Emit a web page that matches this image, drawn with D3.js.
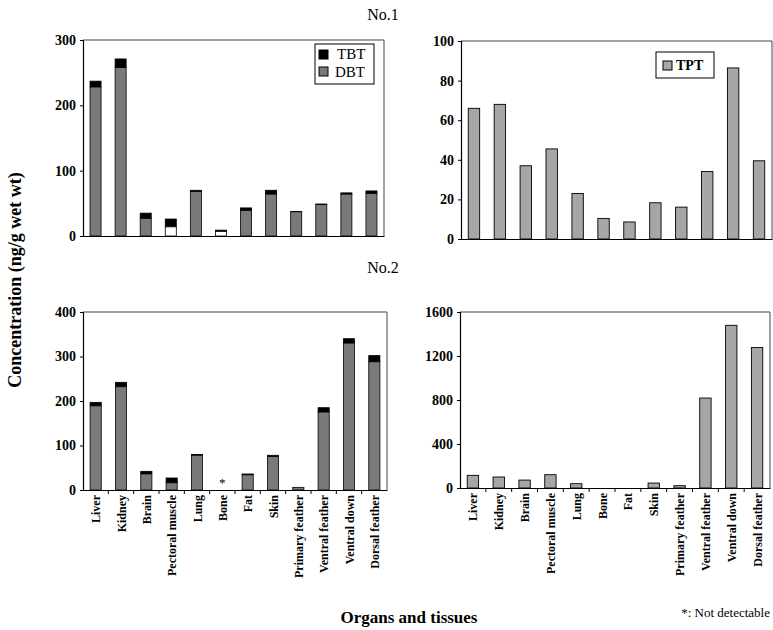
<!DOCTYPE html>
<html><head><meta charset="utf-8">
<script src="https://cdn.jsdelivr.net/npm/d3@7"></script>
<style>body{margin:0;background:#fff}svg{display:block}text{font-family:"Liberation Serif","Times New Roman",serif}</style>
</head><body><svg id="c" width="773" height="630"></svg>
<script>
const categories = ["Liver","Kidney","Brain","Pectoral muscle","Lung","Bone","Fat","Skin","Primary feather","Ventral feather","Ventral down","Dorsal feather"];
// No.1
const dbt1 = [228,258,27,14,68,7,39,64,37,48,64,65];
const tbt1 = [9,13,8,12,2,2,4,6,0.5,1,2,4];
const tpt1 = [66,68,37,45.5,23,10.4,8.6,18.3,16.1,34.1,86.4,39.5];
// No.2
const dbt2 = [189,232,36,16,78,0,34,75,6,175,330,288];
const tbt2 = [8,10,6,11,2,0,2,3,0,10,10,14];
const tpt2 = [115,100,72,121,39,0,0,45,21,818,1479,1277];
const notDetected2 = ["Bone"];
const yTicks1L = [0,100,200,300], yTicks1R = [0,20,40,60,80,100];
const yTicks2L = [0,100,200,300,400], yTicks2R = [0,400,800,1200,1600];

const svg = d3.select("#c");
const whiteDBT = new Set(["Pectoral muscle","Bone"]);

function panel(o){
  const x = d3.scaleBand().domain(categories).range([o.x0,o.x1]).paddingInner(0.56).paddingOuter(0.28);
  const y = d3.scaleLinear().domain([0,o.max]).range([o.y1,o.y0]);
  const g = svg.append("g");
  g.append("path").attr("d",`M${o.x0},${o.y0}H${o.x1}V${o.y1}`).attr("fill","none").attr("stroke","#444").attr("stroke-width",1);
  if(o.stack){
    const rows = categories.map((c,i)=>({c,dbt:o.dbt[i],tbt:o.tbt[i]}));
    rows.forEach(r=>{
      if(r.dbt+r.tbt<=0) return;
      g.append("rect").attr("x",x(r.c)).attr("width",x.bandwidth())
        .attr("y",y(r.dbt+r.tbt)).attr("height",y(r.dbt)-y(r.dbt+r.tbt))
        .attr("fill","#000").attr("stroke","#000").attr("stroke-width",0.8);
      g.append("rect").attr("x",x(r.c)).attr("width",x.bandwidth())
        .attr("y",y(r.dbt)).attr("height",y(0)-y(r.dbt))
        .attr("fill",(o.whiteSet&&o.whiteSet.has(r.c))?"#fff":"#7a7a7a").attr("stroke","#000").attr("stroke-width",0.8);
    });
  } else {
    categories.forEach((c,i)=>{
      if(o.vals[i]<=0) return;
      g.append("rect").attr("x",x(c)).attr("width",x.bandwidth())
        .attr("y",y(o.vals[i])).attr("height",y(0)-y(o.vals[i]))
        .attr("fill","#a6a6a6").attr("stroke","#000").attr("stroke-width",0.9);
    });
  }
  const ya = g.append("g").attr("transform",`translate(${o.x0},0)`)
    .call(d3.axisLeft(y).tickValues(o.ticks).tickSize(3).tickPadding(4).tickFormat(d3.format("d")));
  ya.select(".domain").attr("stroke","#000").attr("stroke-width",1.2);
  ya.selectAll("text").attr("font-size",14).attr("font-weight","bold").attr("fill","#000")
    .attr("font-family","'Liberation Serif',serif");
  const xa = g.append("g").attr("transform",`translate(0,${o.y1})`)
    .call(d3.axisBottom(x).tickSize(0).tickFormat(""));
  xa.select(".domain").attr("stroke","#000").attr("stroke-width",1.2);
  if(o.labels){
    const step = x.step();
    const edges = d3.range(1,categories.length).map(i=>x(categories[i]) - x.paddingInner()*step/2);
    g.selectAll(".et").data(edges).join("line").attr("x1",d=>d).attr("x2",d=>d)
      .attr("y1",o.y1).attr("y2",o.y1+4).attr("stroke","#000").attr("stroke-width",1);
    g.selectAll(".cl").data(categories).join("text")
      .attr("transform",c=>`translate(${x(c)+x.bandwidth()/2+4.5},${o.y1+5}) rotate(-90)`)
      .attr("text-anchor","end").attr("font-size",12).attr("font-weight","bold").attr("fill","#000").text(c=>c);
  }
  return {x,y,g};
}

panel({x0:83,x1:384,y0:40,y1:236,max:300,ticks:yTicks1L,stack:true,dbt:dbt1,tbt:tbt1,whiteSet:whiteDBT});
panel({x0:461,x1:772,y0:41,y1:239,max:100,ticks:yTicks1R,stack:false,vals:tpt1});
const bl = panel({x0:83,x1:387,y0:312,y1:490,max:400,ticks:yTicks2L,stack:true,dbt:dbt2,tbt:tbt2,labels:true});
panel({x0:460,x1:770,y0:312,y1:488,max:1600,ticks:yTicks2R,stack:false,vals:tpt2,labels:true});

notDetected2.forEach(c=>{
  bl.g.append("text").attr("x",bl.x(c)+bl.x.bandwidth()/2).attr("y",487).attr("text-anchor","middle")
    .attr("font-size",13).attr("fill","#000").text("*");
});

const l1 = svg.append("g");
l1.append("rect").attr("x",315).attr("y",44).attr("width",59).attr("height",40).attr("fill","#fff").attr("stroke","#000").attr("stroke-width",1);
l1.append("rect").attr("x",319).attr("y",50).attr("width",9).attr("height",9).attr("fill","#000").attr("stroke","#000");
l1.append("text").attr("x",337).attr("y",59).attr("font-size",15).text("TBT");
l1.append("rect").attr("x",319).attr("y",67).attr("width",9).attr("height",9).attr("fill","#7a7a7a").attr("stroke","#000");
l1.append("text").attr("x",335).attr("y",77).attr("font-size",15).text("DBT");

const l2 = svg.append("g");
l2.append("rect").attr("x",656).attr("y",52).attr("width",58).attr("height",26).attr("fill","#fff").attr("stroke","#000").attr("stroke-width",1);
l2.append("rect").attr("x",663).attr("y",61).attr("width",9).attr("height",9).attr("fill","#a6a6a6").attr("stroke","#000");
l2.append("text").attr("x",676).attr("y",70).attr("font-size",14).attr("font-weight","bold").text("TPT");

svg.append("text").attr("x",383).attr("y",20).attr("text-anchor","middle").attr("font-size",16).text("No.1");
svg.append("text").attr("x",383).attr("y",273).attr("text-anchor","middle").attr("font-size",16).text("No.2");
svg.append("text").attr("transform","translate(21,280) rotate(-90)").attr("text-anchor","middle")
  .attr("font-size",18).attr("font-weight","bold").text("Concentration (ng/g wet wt)");
svg.append("text").attr("x",409).attr("y",623).attr("text-anchor","middle")
  .attr("font-size",17).attr("font-weight","bold").text("Organs and tissues");
svg.append("text").attr("x",770).attr("y",617).attr("text-anchor","end").attr("font-size",13).text("*: Not detectable");
</script></body></html>
